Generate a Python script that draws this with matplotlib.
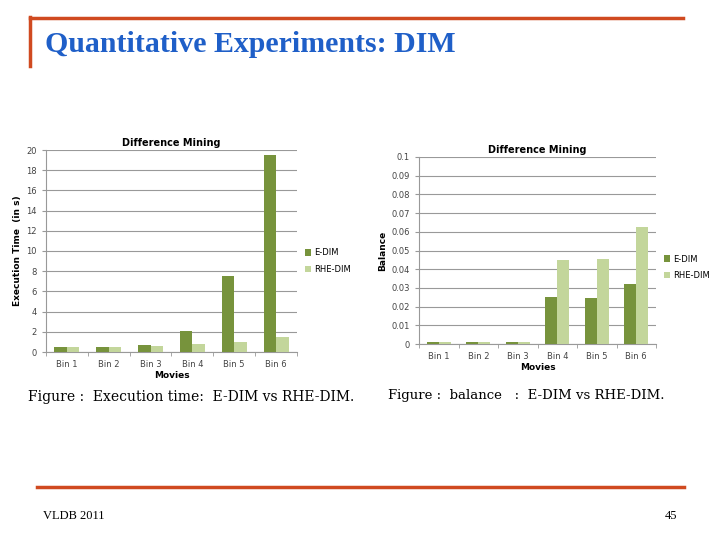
import numpy as np
import matplotlib.pyplot as plt
from matplotlib.lines import Line2D

bins = ["Bin 1", "Bin 2", "Bin 3", "Bin 4", "Bin 5", "Bin 6"]
time_edim = [0.5, 0.5, 0.7, 2.1, 7.5, 19.5]
time_rhe = [0.5, 0.5, 0.6, 0.75, 1.0, 1.5]
bal_edim = [0.001, 0.001, 0.001, 0.025, 0.0245, 0.032]
bal_rhe = [0.001, 0.001, 0.001, 0.045, 0.0455, 0.0625]

dark = "#77933C"
light = "#C3D69B"
orange = "#D04A20"

fig = plt.figure(figsize=(7.2, 5.4), dpi=100)

# slide frame
fig.add_artist(Line2D([30/720, 683/720], [1-18/540, 1-18/540], color=orange, lw=2.5))
fig.add_artist(Line2D([30/720, 30/720], [1-17/540, 1-66/540], color=orange, lw=2.5))
fig.text(45/720, 1-44/540, "Quantitative Experiments: DIM", family="Liberation Serif",
         fontsize=21.5, fontweight="bold", color="#1F5FC8", va="center", ha="left")
fig.add_artist(Line2D([37/720, 684/720], [1-487/540, 1-487/540], color=orange, lw=2.5))
fig.text(43/720, 1-516/540, "VLDB 2011", family="Liberation Serif", fontsize=9, va="center")
fig.text(677/720, 1-516/540, "45", family="Liberation Serif", fontsize=9, va="center", ha="right")


def bar_chart(rect, e, r, ymax, step, ylabel, fmt, legend_xy):
    ax = fig.add_axes(rect)
    x = np.arange(len(bins))
    w = 0.3
    ax.bar(x - w/2, e, w, color=dark, label="E-DIM", zorder=3)
    ax.bar(x + w/2, r, w, color=light, label="RHE-DIM", zorder=3)
    ax.set_xlim(-0.5, len(bins) - 0.5)
    ax.set_ylim(0, ymax)
    ticks = np.arange(0, ymax + step/2, step)
    ax.set_yticks(ticks)
    ax.set_yticklabels([fmt(t) for t in ticks])
    ax.yaxis.grid(True, color="#999999", lw=0.8, zorder=0)
    ax.set_xticks(x)
    ax.set_xticklabels(bins)
    ax.set_xticks(np.arange(-0.5, len(bins), 1), minor=True)
    ax.tick_params(axis="x", which="major", length=0, labelsize=6, colors="#444444", pad=6)
    ax.tick_params(axis="x", which="minor", length=3, color="#999999")
    ax.tick_params(axis="y", length=3, labelsize=6, colors="#444444", color="#999999")
    for s in ["top", "right"]:
        ax.spines[s].set_visible(False)
    ax.spines["left"].set_color("#999999")
    ax.spines["bottom"].set_color("#999999")
    ax.set_title("Difference Mining", fontsize=7, fontweight="bold", pad=3)
    ax.set_xlabel("Movies", fontsize=6.5, fontweight="bold", labelpad=1)
    ax.set_ylabel(ylabel, fontsize=6.5, fontweight="bold", labelpad=3)
    ax.legend(loc="center left", bbox_to_anchor=legend_xy, frameon=False, fontsize=6,
              handlelength=0.8, handleheight=0.8, handletextpad=0.4, labelspacing=0.9)
    return ax


bar_chart([46/720, 1-352/540, 251/720, 202/540], time_edim, time_rhe, 20, 2,
          "Execution Time  (in s)", lambda t: "%d" % t, (1.0, 0.45))
bar_chart([419/720, 1-344/540, 237/720, 187/540], bal_edim, bal_rhe, 0.1, 0.01,
          "Balance", lambda t: "0" if t == 0 else ("%.2f" % t).rstrip("0"), (1.0, 0.41))

fig.text(28/720, 1-397/540, "Figure :  Execution time:  E-DIM vs RHE-DIM.",
         family="DejaVu Serif", fontsize=10, va="center")
fig.text(388/720, 1-396/540, "Figure :  balance   :  E-DIM vs RHE-DIM.",
         family="DejaVu Serif", fontsize=9.5, va="center")

fig.savefig("out.png", dpi=100)
